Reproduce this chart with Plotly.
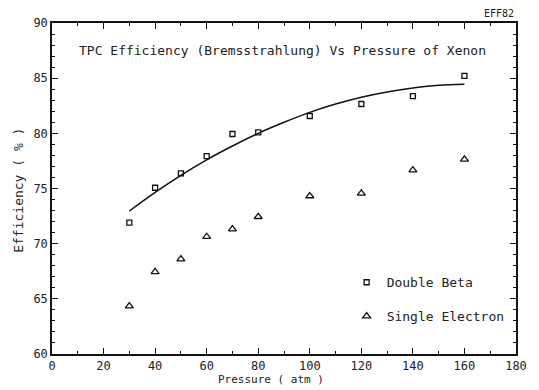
import plotly.graph_objects as go

# Data
pressure = [30, 40, 50, 60, 70, 80, 100, 120, 140, 160]
double_beta = [71.9, 75.07, 76.37, 77.94, 79.94, 80.09, 81.57, 82.66, 83.38, 85.2]
single_electron = [64.34, 67.45, 68.6, 70.63, 71.32, 72.44, 74.32, 74.56, 76.67, 77.64]

fit_pressure = [30, 40, 50, 60, 70, 80, 90, 100, 110, 120, 130, 140, 150, 160]
fit_efficiency = [72.96, 74.65, 76.2, 77.6, 78.85, 80.0, 81.0, 81.9, 82.65, 83.27,
                  83.75, 84.1, 84.35, 84.45]

FONT = "DejaVu Sans Mono"
INK = "#111111"

fig = go.Figure()
fig.add_trace(go.Scatter(
    x=fit_pressure, y=fit_efficiency, mode="lines",
    line=dict(color=INK, width=1.5, shape="spline"),
    showlegend=False, hoverinfo="skip"))
fig.add_trace(go.Scatter(
    x=pressure, y=double_beta, mode="markers", name="Double Beta",
    legendgroup="a",
    marker=dict(symbol="square-open", size=5, color=INK, line=dict(width=1.3, color=INK))))
fig.add_trace(go.Scatter(
    x=pressure, y=single_electron, mode="markers", name="Single Electron",
    legendgroup="b",
    marker=dict(symbol="triangle-up-open", size=7, color=INK, line=dict(width=1.3, color=INK))))

axis_common = dict(
    showline=True, linecolor=INK, linewidth=1.5, mirror="allticks",
    ticks="inside", ticklen=6, tickwidth=1.2, tickcolor=INK,
    showgrid=False, zeroline=False,
    tickfont=dict(family=FONT, size=12, color="#222222"),
)

fig.update_xaxes(range=[0, 180], dtick=20, tick0=0,
                 minor=dict(dtick=10, ticks="inside", ticklen=3, tickcolor=INK, tickwidth=1),
                 **axis_common)
fig.update_yaxes(range=[60, 90], dtick=5, tick0=60,
                 minor=dict(dtick=1, ticks="inside", ticklen=3, tickcolor=INK, tickwidth=1),
                 **axis_common)

fig.update_layout(
    width=539, height=390,
    margin=dict(l=52, r=16, t=23, b=36),
    paper_bgcolor="white", plot_bgcolor="white",
    font=dict(family=FONT, color="#222222"),
    legend=dict(
        x=0.635, y=0.262, xanchor="left", yanchor="top",
        bgcolor="rgba(0,0,0,0)", borderwidth=0,
        font=dict(family=FONT, size=13, color="#222222"),
        traceorder="grouped", tracegroupgap=14,
    ),
    annotations=[
        dict(text="TPC Efficiency (Bremsstrahlung) Vs Pressure of Xenon",
             xref="paper", yref="paper", x=0.053, y=0.918,
             xanchor="left", yanchor="middle", showarrow=False,
             font=dict(family=FONT, size=13, color="#222222")),
        dict(text="EFF82", xref="paper", yref="paper", x=1.0, y=1.0,
             xanchor="right", yanchor="bottom", yshift=2, showarrow=False,
             font=dict(family=FONT, size=10, color="#222222")),
        dict(text="Pressure ( atm )", xref="paper", yref="paper", x=0.473, y=-0.078,
             xanchor="center", yanchor="middle", showarrow=False,
             font=dict(family=FONT, size=11, color="#222222")),
        dict(text="Efficiency ( % )", xref="paper", yref="paper", x=-0.074, y=0.495,
             xanchor="center", yanchor="middle", showarrow=False, textangle=-90,
             font=dict(family=FONT, size=13, color="#222222")),
    ],
)

fig.write_html("out.html")
